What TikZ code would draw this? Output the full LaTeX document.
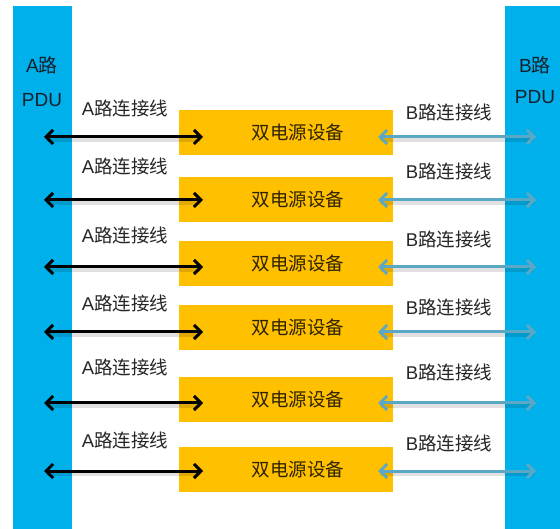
\documentclass[tikz,border=0pt]{standalone}
\usepackage{fontspec}
\setmainfont{Liberation Sans}
\newfontfamily\cjk{Noto Sans CJK SC}
\usetikzlibrary{arrows.meta}
\definecolor{pdublue}{HTML}{00B0EA}
\definecolor{devyellow}{HTML}{FFC000}
\definecolor{barrow}{HTML}{5AA8C6}
\definecolor{labelgray}{HTML}{262626}
\definecolor{devtext}{HTML}{2E2300}
\definecolor{pdutext}{HTML}{16202C}
\tikzset{
  pdubar/.style={fill=pdublue, draw=none, inner sep=0pt, outer sep=0pt},
  devbox/.style={fill=devyellow, draw=none, minimum width=214pt, minimum height=45pt, inner sep=0pt, outer sep=0pt},
  devlabel/.style={text=devtext, font=\fontsize{18.5}{20}\selectfont\cjk},
  linklabel/.style={text=labelgray, font=\fontsize{18.5}{20}\selectfont},
  pdulabel/.style={text=pdutext, font=\fontsize{19}{21}\selectfont, align=center},
  abarb/.style={Straight Barb[length=7pt,width=14pt,line width=3pt]},
  alink/.style={line width=3pt, black, {Straight Barb[length=7pt,width=14pt,line width=3pt]}-{Straight Barb[length=7pt,width=14pt,line width=3pt]}},
  blink/.style={line width=3pt, barrow, {Straight Barb[length=7pt,width=14pt,line width=3pt]}-{Straight Barb[length=7pt,width=14pt,line width=3pt]}},
  shadowline/.style={line width=3.5pt, black, opacity=0.12, line cap=round},
}
\begin{document}
\begin{tikzpicture}[x=1pt,y=-1pt]
\useasboundingbox (0,0) rectangle (560,529);
\fill[white] (0,0) rectangle (560,529);
% PDU bars
\node[pdubar, minimum width=59pt, minimum height=523pt, anchor=north west] (pduA) at (13,6) {};
\node[pdubar, minimum width=55pt, minimum height=523pt, anchor=north west] (pduB) at (505,6) {};
\node[pdulabel] (pduAt1) at (42,65) {A{\cjk 路}};
\node[pdulabel] (pduAt2) at (42,100) {PDU};
\node[pdulabel] (pduBt1) at (535,65) {B{\cjk 路}};
\node[pdulabel] (pduBt2) at (535,97) {PDU};
% rows: box top, arrow y, A label y, B label y
\foreach \i/\top/\ay/\la/\lb in {1/110/137/108/112, 2/177/200/166/171, 3/241/267/235/239, 4/305/332/303/307, 5/377/403/367/372, 6/447/471/440/443}{
  \node[devbox, anchor=north west] (dev\i) at (179,\top) {};
  \node[devlabel] (devt\i) at (298,\top+22.5) {双电源设备};
  \node[linklabel] (la\i) at (125,\la) {A{\cjk 路连接线}};
  \node[linklabel] (lb\i) at (449,\lb) {B{\cjk 路连接线}};
  \coordinate (a\i l) at (44,\ay);
  \coordinate (a\i r) at (203,\ay);
  \coordinate (b\i l) at (378,\ay);
  \coordinate (b\i r) at (536,\ay);
  \coordinate (a\i ls) at (48,\ay+3);
  \coordinate (a\i rs) at (199,\ay+3);
  \coordinate (b\i ls) at (382,\ay+3);
  \coordinate (b\i rs) at (532,\ay+3);
  \draw[shadowline] (a\i ls) -- (a\i rs);
  \draw[shadowline] (b\i ls) -- (b\i rs);
  \draw[alink] (a\i l) -- (a\i r);
  \draw[blink] (b\i l) -- (b\i r);
}
\end{tikzpicture}
\end{document}
